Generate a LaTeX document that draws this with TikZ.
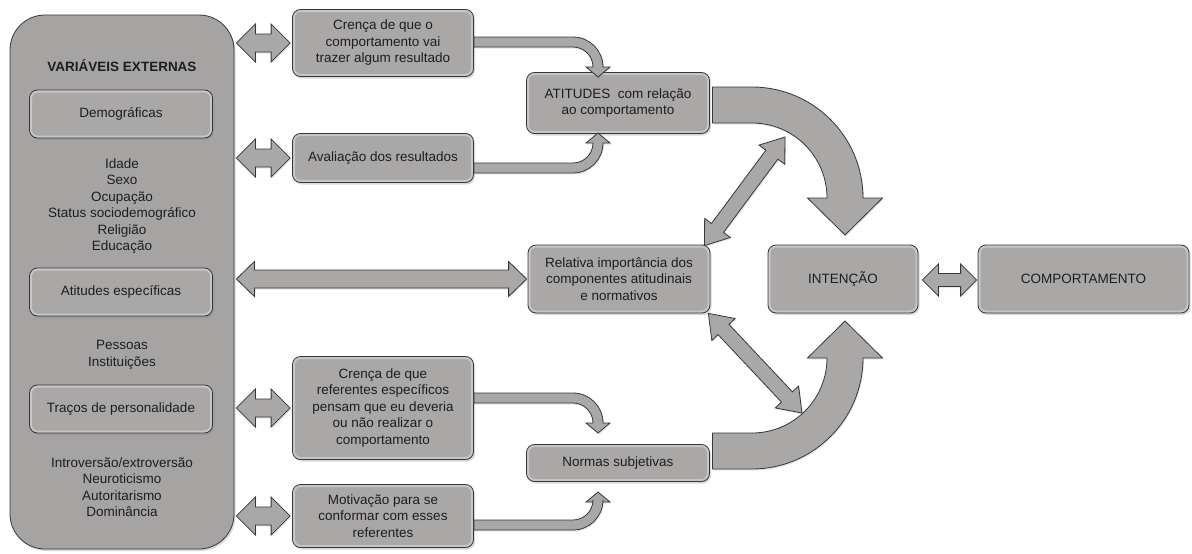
\documentclass[tikz,border=0pt]{standalone}
\usepackage{fontspec}
\setmainfont{Liberation Sans}
\usetikzlibrary{calc,shadows}
\definecolor{boxgray}{RGB}{170,167,167}
\definecolor{edgegray}{RGB}{55,55,55}
\definecolor{txtgray}{RGB}{30,30,30}
\tikzset{
  boxbase/.style={draw=edgegray, line width=0.8pt, fill=boxgray, text=txtgray,
    align=center, font=\fontsize{13.5}{16.5}\selectfont, inner sep=2pt,
    drop shadow={shadow xshift=1.5pt, shadow yshift=-2pt, opacity=0.3}},
  box/.style={boxbase, rounded corners=8pt,
    path picture={\draw[white, opacity=0.35, line width=5pt, rounded corners=8pt]
      (path picture bounding box.south west) rectangle (path picture bounding box.north east);}},
  bigbox/.style={boxbase, rounded corners=35pt, fill={rgb,255:red,166;green,163;blue,163}},
  lbl/.style={text=txtgray, align=center, font=\fontsize{13.5}{16.5}\selectfont},
  blockarrow/.style={fill=boxgray, draw=edgegray, line width=0.8pt, line join=miter,
    drop shadow={shadow xshift=1pt, shadow yshift=-1.5pt, opacity=0.2}}
}
\newcommand\dblarr[5]{%
  \coordinate (ha) at ($(#1)!#3!(#2)$);
  \coordinate (hb) at ($(#2)!#3!(#1)$);
  \path[blockarrow] (#1) -- ($(ha)!#4!90:(#2)$) -- ($(ha)!#5!90:(#2)$)
    -- ($(hb)!#5!-90:(#1)$) -- ($(hb)!#4!-90:(#1)$) -- (#2)
    -- ($(hb)!#4!90:(#1)$) -- ($(hb)!#5!90:(#1)$)
    -- ($(ha)!#5!-90:(#2)$) -- ($(ha)!#4!-90:(#2)$) -- cycle;}
\begin{document}
\begin{tikzpicture}[x=1pt,y=-1pt]
\useasboundingbox (0,0) rectangle (1192,554);
\fill[white] (0,0) rectangle (1192,554);

% external variables panel
\node[bigbox, minimum width=224pt, minimum height=534pt] (ext) at (122,282) {};
\node[lbl, font=\fontsize{13.5}{16.5}\selectfont\bfseries] (extt) at (122,66) {VARIÁVEIS EXTERNAS};
\node[box, minimum width=183pt, minimum height=48pt] (dem) at (121,114) {Demográficas};
\node[lbl] (deml) at (122,206) {Idade\\Sexo\\Ocupação\\Status sociodemográfico\\Religião\\Educação};
\node[box, minimum width=183pt, minimum height=48pt] (ati) at (121,292) {Atitudes específicas};
\node[lbl] (atil) at (122,355) {Pessoas\\Instituições};
\node[box, minimum width=183pt, minimum height=48pt] (tra) at (121,409) {Traços de personalidade};
\node[lbl] (tral) at (122,487) {Introversão/extroversão\\Neuroticismo\\Autoritarismo\\Dominância};

% belief boxes
\node[box, minimum width=181pt, minimum height=67pt] (c1) at (383,43) {Crença de que o\\comportamento vai\\trazer algum resultado};
\node[box, minimum width=181pt, minimum height=49pt] (av) at (383,158) {Avaliação dos resultados};
\node[box, minimum width=181pt, minimum height=103pt] (c2) at (383,408) {Crença de que\\referentes específicos\\pensam que eu deveria\\ou não realizar o\\comportamento};
\node[box, minimum width=181pt, minimum height=63pt] (mot) at (383,516) {Motivação para se\\conformar com esses\\referentes};

% middle column
\node[box, minimum width=183pt, minimum height=61pt] (att) at (618,103) {ATITUDES~ com relação\\ao comportamento};
\node[box, minimum width=182pt, minimum height=68pt] (rel) at (619,279) {Relativa importância dos\\componentes atitudinais\\e normativos};
\node[box, minimum width=183pt, minimum height=37pt] (nor) at (618,463) {Normas subjetivas};

% right column
\node[box, minimum width=150pt, minimum height=68pt] (int) at (843,279) {INTENÇÃO};
\node[box, minimum width=211pt, minimum height=68pt] (comp) at (1083.5,279) {COMPORTAMENTO};

% left double arrows
\coordinate (l1a) at ($(ext.east|-c1.west)+(2,0)$);  \coordinate (l1b) at ($(c1.west)+(-2,0)$);
\coordinate (l2a) at ($(ext.east|-av.west)+(2,0)$);  \coordinate (l2b) at ($(av.west)+(-2,0)$);
\coordinate (l3a) at ($(ext.east|-rel.west)+(2,0)$); \coordinate (l3b) at ($(rel.west)+(-1,0)$);
\coordinate (l4a) at ($(ext.east|-c2.west)+(2,0)$);  \coordinate (l4b) at ($(c2.west)+(-2,0)$);
\coordinate (l5a) at ($(ext.east|-mot.west)+(2,0)$); \coordinate (l5b) at ($(mot.west)+(-2,0)$);
\dblarr{l1a}{l1b}{19pt}{19pt}{9pt}
\dblarr{l2a}{l2b}{19pt}{19pt}{9pt}
\dblarr{l3a}{l3b}{18pt}{17.5pt}{9pt}
\dblarr{l4a}{l4b}{19pt}{19pt}{9pt}
\dblarr{l5a}{l5b}{19pt}{19pt}{9pt}

% intention <-> behaviour
\coordinate (icA) at ($(int.east)+(4,1)$); \coordinate (icB) at ($(comp.west)+(-1,1)$);
\dblarr{icA}{icB}{16pt}{16pt}{6.5pt}

% diagonal double arrows
\coordinate (d1a) at ($(rel.north east)+(-6,1)$); \coordinate (d1b) at (785,137);
\dblarr{d1a}{d1b}{22pt}{16pt}{7.5pt}
\coordinate (d2a) at ($(rel.south east)+(-2,0)$); \coordinate (d2b) at (802,413);
\dblarr{d2a}{d2b}{22pt}{16pt}{7.5pt}

% small curved arrows
\path[blockarrow] ($(c1.east)+(0,-6)$) -- (573,37) .. controls (589.6,37) and (603,50.4) .. (603,67)
  -- (610,67) -- (598,77) -- (586,67) -- (593,67) .. controls (593,56) and (584,47) .. (573,47)
  -- ($(c1.east)+(0,4)$) -- cycle;
\path[blockarrow] ($(av.east)+(0,15)$) -- (573,173) .. controls (589.6,173) and (603,159.6) .. (603,143)
  -- (610,143) -- (598,133) -- (586,143) -- (593,143) .. controls (593,154) and (584,163) .. (573,163)
  -- ($(av.east)+(0,5)$) -- cycle;
\path[blockarrow] ($(c2.east)+(0,-15)$) -- (573,393) .. controls (589.6,393) and (603,406.4) .. (603,423)
  -- (610,423) -- (598,433) -- (586,423) -- (593,423) .. controls (593,412) and (584,403) .. (573,403)
  -- ($(c2.east)+(0,-5)$) -- cycle;
\path[blockarrow] ($(mot.east)+(0,14)$) -- (573,530) .. controls (589.6,530) and (603,516.6) .. (603,500)
  -- (603,502) -- (610,502) -- (598,492) -- (586,502) -- (593,502) -- (593,500) .. controls (593,511) and (584,520) .. (573,520)
  -- ($(mot.east)+(0,4)$) -- cycle;

% big curved arrows into INTENCAO
\path[blockarrow] ($(att.east)+(2.5,-16)$) -- (752,87) .. controls (813.3,87) and (863,136.7) .. (863,198)
  -- (882.5,198) -- (845,235) -- (807.5,198) -- (827,198) .. controls (827,156.6) and (793.4,123) .. (752,123)
  -- ($(att.east)+(2.5,20)$) -- cycle;
\path[blockarrow] ($(nor.east)+(2.5,-30)$) -- (752,433) .. controls (793.4,433) and (827,399.4) .. (827,358)
  -- (807.5,358) -- (845,321) -- (882.5,358) -- (863,358) .. controls (863,419.3) and (813.3,469) .. (752,469)
  -- ($(nor.east)+(2.5,6)$) -- cycle;
\end{tikzpicture}
\end{document}
